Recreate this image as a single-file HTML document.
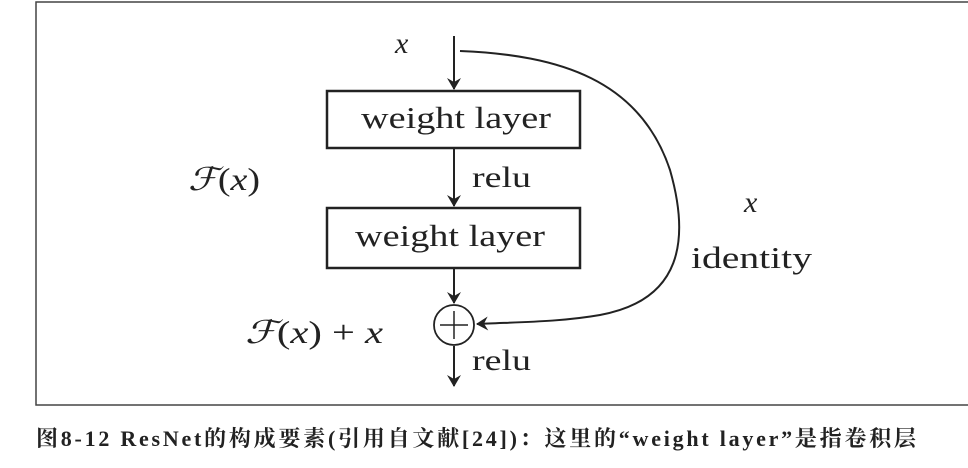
<!DOCTYPE html>
<html><head><meta charset="utf-8"><style>
body{margin:0;background:#fff;width:968px;height:468px;overflow:hidden;position:relative}
svg{position:absolute;left:0;top:0}
</style></head><body>
<svg width="968" height="468" viewBox="0 0 968 468">
<defs><marker id="a" markerWidth="12" markerHeight="14" refX="11" refY="7" orient="auto" markerUnits="userSpaceOnUse"><path d="M0,0 L12,7 L0,14 L4,7 Z" fill="#222"/></marker></defs>
<rect x="36" y="2" width="940" height="403" fill="none" stroke="#444" stroke-width="1.5"/>
<g stroke="#222" stroke-width="2" fill="none">
<line x1="454" y1="36" x2="454" y2="89" marker-end="url(#a)"/>
<line x1="454" y1="149" x2="454" y2="206" marker-end="url(#a)"/>
<line x1="454" y1="269" x2="454" y2="303" marker-end="url(#a)"/>
<line x1="454" y1="346" x2="454" y2="386" marker-end="url(#a)"/>
<rect x="327" y="91" width="253" height="57" stroke-width="2.5"/>
<rect x="327" y="208" width="253" height="60" stroke-width="2.5"/>
<circle cx="454" cy="325" r="20" stroke-width="1.8"/>
<line x1="454" y1="311" x2="454" y2="339" stroke-width="1.5"/>
<line x1="440" y1="325" x2="468" y2="325" stroke-width="1.5"/>
<path d="M460,51 C560,55 640,80 670,170 C690,240 682,300 600,315 C560,322 520,322 477,324" marker-end="url(#a)"/>
</g>
<g font-family="Liberation Serif,serif" fill="#222">
<text x="395" y="53" font-size="30" font-style="italic">x</text>
<text x="361" y="128" font-size="31" textLength="190" lengthAdjust="spacingAndGlyphs">weight layer</text>
<text x="355" y="246" font-size="31" textLength="190" lengthAdjust="spacingAndGlyphs">weight layer</text>
<text x="472" y="187" font-size="30" textLength="59" lengthAdjust="spacingAndGlyphs">relu</text>
<text x="472" y="370" font-size="30" textLength="59" lengthAdjust="spacingAndGlyphs">relu</text>
<text x="188" y="190" font-size="32" font-style="italic" textLength="72" lengthAdjust="spacingAndGlyphs">ℱ<tspan font-style="normal">(</tspan>x<tspan font-style="normal">)</tspan></text>
<text x="245" y="343" font-size="32" font-style="italic" textLength="138" lengthAdjust="spacingAndGlyphs">ℱ<tspan font-style="normal">(</tspan>x<tspan font-style="normal">) + </tspan>x</text>
<text x="744" y="212" font-size="30" font-style="italic">x</text>
<text x="691" y="268" font-size="31" textLength="121" lengthAdjust="spacingAndGlyphs">identity</text>
<text x="36" y="446" font-size="22" font-weight="bold" font-family="Liberation Serif,Noto Serif CJK SC,serif" textLength="880" lengthAdjust="spacing">图8-12   ResNet的构成要素(引用自文献[24])：这里的“weight layer”是指卷积层</text>
</g>
</svg>
</body></html>
